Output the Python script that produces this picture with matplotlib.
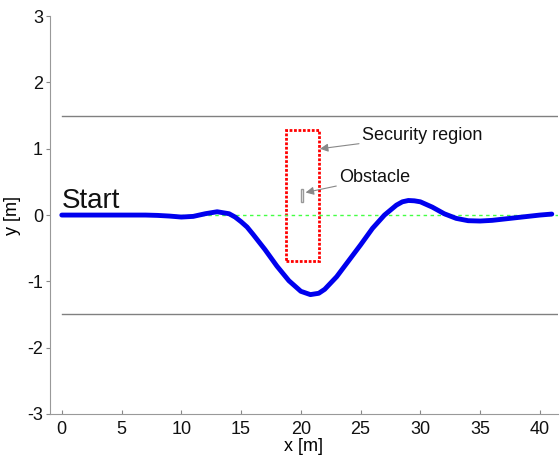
import numpy as np
import matplotlib
matplotlib.use('Agg')
import matplotlib.pyplot as plt
from matplotlib.patches import Rectangle

plt.rcParams['font.family'] = ['Liberation Sans', 'DejaVu Sans']
plt.rcParams['axes.unicode_minus'] = False

# trajectory
traj_x = [0, 1, 2, 3, 4, 5, 6, 7, 8, 9, 10, 11, 12, 13, 14, 14.5, 15, 15.5, 16,
          17, 18, 19, 20, 20.8, 21.5, 22, 23, 24, 25, 26, 27, 28, 28.5, 29,
          29.5, 30, 31, 32, 33, 34, 35, 36, 37, 38, 39, 40, 41]
traj_y = [0, 0, 0, 0, 0, 0, 0, 0, -0.005, -0.015, -0.03, -0.02, 0.02, 0.05,
          0.02, -0.03, -0.1, -0.18, -0.29, -0.52, -0.77, -0.99, -1.15, -1.2,
          -1.18, -1.12, -0.93, -0.69, -0.45, -0.2, 0.0, 0.15, 0.2, 0.22, 0.215,
          0.2, 0.12, 0.02, -0.05, -0.085, -0.09, -0.08, -0.06, -0.04, -0.02,
          0.0, 0.015]

road_limits = [1.5, -1.5]
road_x = [0, 41.5]

security_box = [18.75, -0.69, 2.75, 1.98]   # x, y, width, height
obstacle_box = [20.0, 0.2, 0.2, 0.19]

fig = plt.figure(figsize=(5.6, 4.63), dpi=100)
ax = fig.add_axes([0.089, 0.106, 0.907, 0.859])

for yl in road_limits:
    ax.plot(road_x, [yl, yl], color='#808080', lw=1.0)
ax.plot(road_x, [0, 0], color='#44ff44', lw=1.0, ls=(0, (2.5, 2.5)))
ax.plot(traj_x, traj_y, color='#0000ee', lw=3.5, solid_capstyle='round',
        solid_joinstyle='round')

ax.add_patch(Rectangle(security_box[:2], security_box[2], security_box[3],
                       fill=False, edgecolor='red', lw=2.0, ls=(0, (1, 0.6))))
ax.add_patch(Rectangle(obstacle_box[:2], obstacle_box[2], obstacle_box[3],
                       fill=False, edgecolor='#999999', lw=1.0))

ax.text(0, 0.1, 'Start', fontsize=20, ha='left', va='baseline', color='#111111')
arrow = dict(arrowstyle='-|>', color='#888888', lw=0.8, shrinkA=0, shrinkB=0,
             mutation_scale=12)
ax.annotate('Security region', xy=(21.6, 1.0), xytext=(25.1, 1.2),
            fontsize=13, va='center', ha='left', color='#111111', arrowprops=arrow)
ax.annotate('Obstacle', xy=(20.4, 0.34), xytext=(23.2, 0.56),
            fontsize=13, va='center', ha='left', color='#111111', arrowprops=arrow)

ax.set_xlim(-1, 41.5)
ax.set_ylim(-3, 3)
ax.set_xticks(np.arange(0, 41, 5))
ax.set_yticks(np.arange(-3, 4, 1))
ax.set_xlabel('x [m]', fontsize=13, labelpad=0)
ax.set_ylabel('y [m]', fontsize=13, labelpad=4)
ax.tick_params(length=3, color='#888888', labelsize=13, labelcolor='#111111')
ax.tick_params(axis='x', direction='in', pad=5)
ax.tick_params(axis='y', direction='out', pad=2)
for s in ['top', 'right']:
    ax.spines[s].set_visible(False)
for s in ['left', 'bottom']:
    ax.spines[s].set_color('#999999')

fig.savefig('out.png', dpi=100)
